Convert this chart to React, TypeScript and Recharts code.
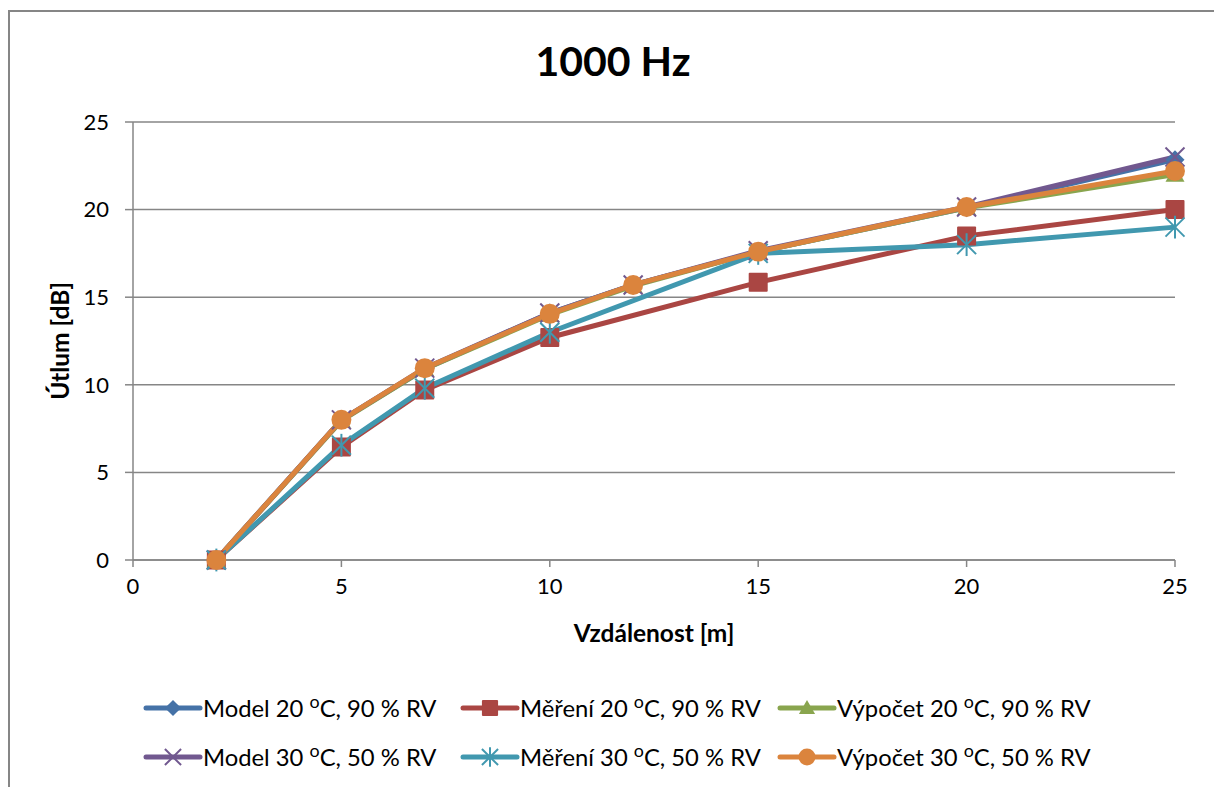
import React from "react";
import { LineChart, Line, XAxis, YAxis, CartesianGrid, Label } from "recharts";

// distances [m]
const distances = [2, 5, 7, 10, 12, 15, 20, 25];
const measuredDistances = [2, 5, 7, 10, 15, 20, 25];

// attenuation [dB]
const model20 = [0, 8.0, 10.9, 14.1, 15.7, 17.6, 20.1, 22.85];
const measured20 = [0, 6.45, 9.7, 12.7, 15.85, 18.5, 20.0];
const calc20 = [0, 7.95, 10.9, 14.0, 15.65, 17.6, 20.1, 22.0];
const model30 = [0, 8.0, 10.95, 14.1, 15.7, 17.65, 20.15, 23.0];
const measured30 = [0, 6.55, 9.8, 13.0, 17.5, 18.0, 19.0];
const calc30 = [0, 8.0, 10.95, 14.05, 15.7, 17.6, 20.15, 22.2];

const xTicks = [0, 5, 10, 15, 20, 25];
const yTicks = [0, 5, 10, 15, 20, 25];

const toPoints = (xs: number[], ys: number[]) => xs.map((x, i) => ({ x, y: ys[i] }));

type Shape = "diamond" | "square" | "triangle" | "x" | "asterisk" | "circle";

const series: { name: string; color: string; shape: Shape; data: { x: number; y: number }[] }[] = [
  { name: "Model 20 °C, 90 % RV", color: "#4572A7", shape: "diamond", data: toPoints(distances, model20) },
  { name: "Měření 20 °C, 90 % RV", color: "#AA4643", shape: "square", data: toPoints(measuredDistances, measured20) },
  { name: "Výpočet 20 °C, 90 % RV", color: "#89A54E", shape: "triangle", data: toPoints(distances, calc20) },
  { name: "Model 30 °C, 50 % RV", color: "#71588F", shape: "x", data: toPoints(distances, model30) },
  { name: "Měření 30 °C, 50 % RV", color: "#4198AF", shape: "asterisk", data: toPoints(measuredDistances, measured30) },
  { name: "Výpočet 30 °C, 50 % RV", color: "#DB843D", shape: "circle", data: toPoints(distances, calc30) },
];

const FONT = "Lato, 'Noto Sans', sans-serif";
const GRID = "#868686";

function Marker({ shape, color, cx, cy, s = 1 }: { shape: Shape; color: string; cx: number; cy: number; s?: number }) {
  const r = 9.5 * s;
  switch (shape) {
    case "diamond":
      return <polygon points={`${cx},${cy - r} ${cx + r},${cy} ${cx},${cy + r} ${cx - r},${cy}`} fill={color} />;
    case "square":
      return <rect x={cx - r} y={cy - r} width={2 * r} height={2 * r} rx={1} fill={color} />;
    case "triangle":
      return <polygon points={`${cx},${cy - r} ${cx + r},${cy + r * 0.75} ${cx - r},${cy + r * 0.75}`} fill={color} />;
    case "x":
      return (
        <g stroke={color} strokeWidth={2}>
          <line x1={cx - r} y1={cy - r} x2={cx + r} y2={cy + r} />
          <line x1={cx - r} y1={cy + r} x2={cx + r} y2={cy - r} />
        </g>
      );
    case "asterisk":
      return (
        <g stroke={color} strokeWidth={2}>
          <line x1={cx - r} y1={cy - r} x2={cx + r} y2={cy + r} />
          <line x1={cx - r} y1={cy + r} x2={cx + r} y2={cy - r} />
          <line x1={cx} y1={cy - r * 1.2} x2={cx} y2={cy + r * 1.2} />
        </g>
      );
    default:
      return <circle cx={cx} cy={cy} r={r * 1.05} fill={color} />;
  }
}

function makeDot(shape: Shape, color: string) {
  return (props: any) => {
    const { cx, cy, index } = props;
    if (cx == null || cy == null) return <g key={`d-${index}`} />;
    return (
      <g key={`d-${index}`}>
        <Marker shape={shape} color={color} cx={cx} cy={cy} />
      </g>
    );
  };
}

function LegendName({ name }: { name: string }) {
  const [a, b] = name.split("°");
  return (
    <span style={{ whiteSpace: "nowrap" }}>
      {a}
      <span style={{ fontSize: "0.75em", position: "relative", top: "-0.5em" }}>o</span>
      {b}
    </span>
  );
}

function ChartLegend() {
  return (
    <div
      style={{
        position: "absolute",
        left: 143,
        top: 693,
        display: "grid",
        gridTemplateColumns: "317px 317px 317px",
        rowGap: 19,
        fontFamily: FONT,
        fontSize: 23.8,
        color: "#000",
      }}
    >
      {series.map((s) => (
        <div key={s.name} style={{ display: "flex", alignItems: "center", height: 30 }}>
          <svg width={60} height={22} style={{ flex: "none" }}>
            <line x1={3} y1={11} x2={57} y2={11} stroke={s.color} strokeWidth={5} strokeLinecap="round" />
            <Marker shape={s.shape} color={s.color} cx={30} cy={11} s={0.85} />
          </svg>
          <LegendName name={s.name} />
        </div>
      ))}
    </div>
  );
}

export default function App() {
  return (
    <div style={{ position: "relative", width: 1214, height: 787, overflow: "hidden", background: "#fff" }}>
      <style>{`body{margin:0;overflow:hidden}`}</style>
      <div
        style={{
          position: "absolute",
          left: 8,
          top: 10,
          width: 1230,
          height: 800,
          borderLeft: `2px solid ${GRID}`,
          borderTop: `2px solid ${GRID}`,
        }}
      />
      <div
        style={{
          position: "absolute",
          left: 0,
          width: 1226,
          top: 40,
          textAlign: "center",
          fontFamily: FONT,
          fontWeight: 700,
          fontSize: 41,
          lineHeight: "41px",
        }}
      >
        1000 Hz
      </div>
      <div style={{ position: "absolute", left: 0, top: 0 }}>
        <LineChart width={1214} height={787} margin={{ top: 122, right: 39, left: 73, bottom: 147 }}>
          <CartesianGrid horizontal vertical={false} stroke={GRID} strokeWidth={1.5} />
          <XAxis
            dataKey="x"
            type="number"
            domain={[0, 25]}
            ticks={xTicks}
            height={80}
            stroke={GRID}
            strokeWidth={1.5}
            tickSize={7}
            tickMargin={11}
            tick={{ fill: "#000", fontSize: 22, fontFamily: FONT }}
            allowDuplicatedCategory={false}
          >
            <Label
              value="Vzdálenost [m]"
              position="insideBottom"
              offset={-2}
              style={{ fontFamily: FONT, fontWeight: 700, fontSize: 24.5, fill: "#000" }}
            />
          </XAxis>
          <YAxis
            type="number"
            domain={[0, 25]}
            ticks={yTicks}
            width={60}
            stroke={GRID}
            strokeWidth={1.5}
            tickSize={8}
            tickMargin={16}
            tick={{ fill: "#000", fontSize: 22, fontFamily: FONT }}
          >
            <Label
              value="Útlum [dB]"
              angle={-90}
              position="insideLeft"
              offset={-13}
              style={{ fontFamily: FONT, fontWeight: 700, fontSize: 24.5, fill: "#000", textAnchor: "middle" }}
            />
          </YAxis>
          {series.map((s) => (
            <Line
              key={s.name}
              data={s.data}
              dataKey="y"
              name={s.name}
              type="linear"
              stroke={s.color}
              strokeWidth={5}
              dot={makeDot(s.shape, s.color)}
              activeDot={false}
              isAnimationActive={false}
            />
          ))}
        </LineChart>
      </div>
      <ChartLegend />
    </div>
  );
}
